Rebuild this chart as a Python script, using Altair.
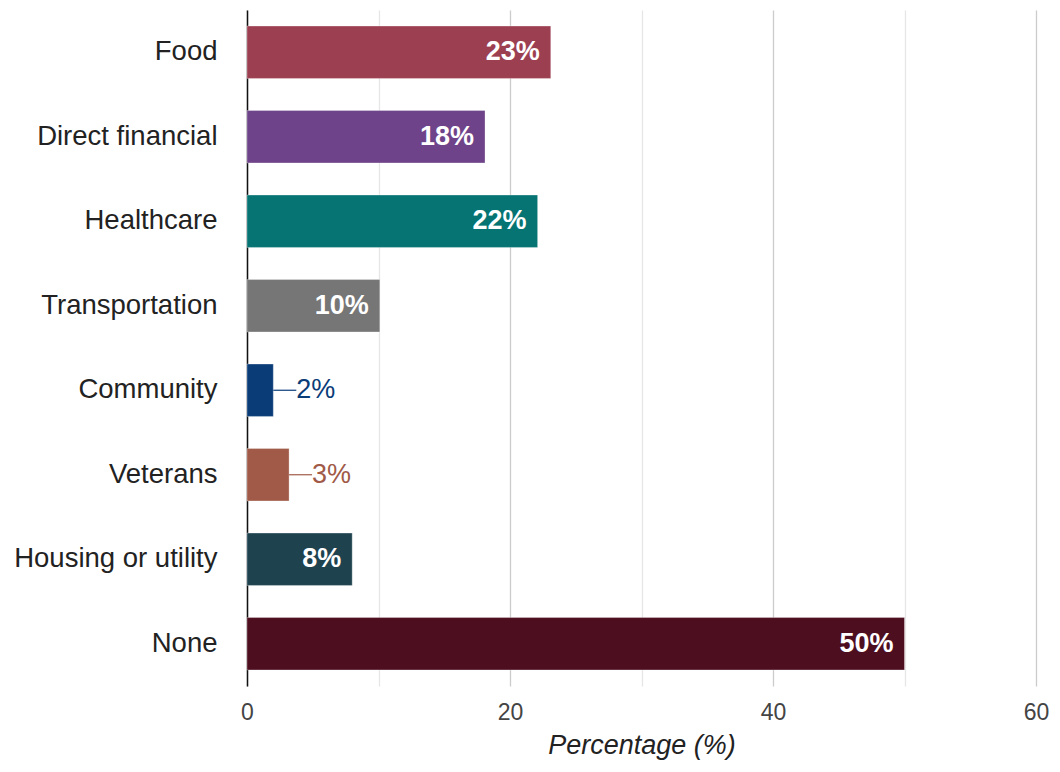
import altair as alt
import pandas as pd

categories = ["Food", "Direct financial", "Healthcare", "Transportation",
              "Community", "Veterans", "Housing or utility", "None"]
values = [23.1, 18.1, 22.1, 10.1, 2.0, 3.2, 8.0, 50.0]
colors = ["#9C3F51", "#6E4389", "#067472", "#767676",
          "#0A3C78", "#A05A47", "#1F424F", "#4D0E1F"]
x_ticks = [0, 10, 20, 30, 40, 50, 60]

df = pd.DataFrame({"cat": categories, "val": values, "color": colors})
df["label"] = [f"{round(v)}%" for v in values]
df["inside"] = df["val"] >= 5

FONT = "Liberation Sans"

y_enc = alt.Y("cat:N", sort=categories, title=None,
              scale=alt.Scale(paddingInner=0.38, paddingOuter=0.19),
              axis=alt.Axis(labelFontSize=27.5, labelColor="#222222", labelFont=FONT,
                            labelLimit=400,
                            ticks=False, labelPadding=30, domainColor="#111111",
                            domainWidth=1.5, grid=False))
x_scale = alt.Scale(domain=[0, 60], nice=False)

bars = alt.Chart(df).mark_bar(stroke="white", strokeWidth=0.6, strokeOpacity=0.5).encode(
    x=alt.X("val:Q", scale=x_scale, title="Percentage (%)",
            axis=alt.Axis(values=x_ticks,
                          labelExpr="datum.value % 20 == 0 ? datum.label : ''",
                          labelFontSize=23, labelColor="#444444", labelFont=FONT,
                          labelFlush=False,
                          labelPadding=15, ticks=False, domain=False,
                          gridColor={"condition": {"test": "datum.value % 20 == 0", "value": "#cccccc"},
                                     "value": "#e6e6e6"},
                          gridWidth=1.3,
                          titleFontSize=27, titleFont=FONT, titleFontStyle="italic",
                          titleFontWeight="normal", titleColor="#222222", titlePadding=8)),
    y=y_enc,
    color=alt.Color("color:N", scale=None),
)

inside = alt.Chart(df).transform_filter("datum.inside").mark_text(
    align="right", baseline="middle", dx=-11, font=FONT, fontSize=27,
    fontWeight="bold", color="white").encode(
    x=alt.X("val:Q", scale=x_scale), y=alt.Y("cat:N", sort=categories), text="label:N")

connectors = alt.Chart(df).transform_filter("!datum.inside").mark_rule(
    x2Offset=23, strokeWidth=1.2).encode(
    x=alt.X("val:Q", scale=x_scale), x2="val:Q",
    y=alt.Y("cat:N", sort=categories),
    color=alt.Color("color:N", scale=None))

outside = alt.Chart(df).transform_filter("!datum.inside").mark_text(
    align="left", baseline="middle", dx=23, font=FONT, fontSize=27).encode(
    x=alt.X("val:Q", scale=x_scale), y=alt.Y("cat:N", sort=categories), text="label:N",
    color=alt.Color("color:N", scale=None))

chart = alt.layer(bars, inside, connectors, outside).properties(
    width=789, height=676,
    autosize=alt.AutoSizeParams(type="none"),
    padding={"left": 239, "top": 2, "right": 16, "bottom": 77},
).configure(background="white", view=alt.ViewConfig(stroke=None))

chart.save("out.html", embed_options={"renderer": "svg", "actions": False})
